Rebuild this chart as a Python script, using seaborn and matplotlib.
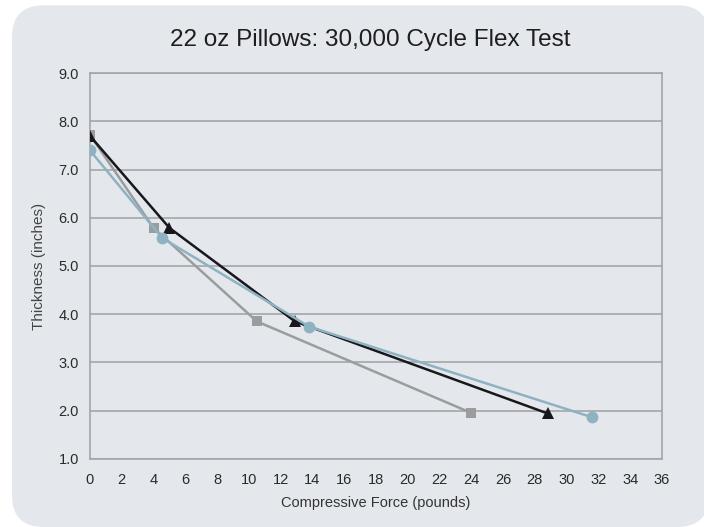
import numpy as np
import pandas as pd
import matplotlib.pyplot as plt
import seaborn as sns
from matplotlib.patches import FancyBboxPatch

# ---------------------------------------------------------------------------
# data
# ---------------------------------------------------------------------------
force_square = [0.0, 4.0, 10.5, 24.0]
thick_square = [7.72, 5.79, 3.85, 1.95]

force_triangle = [0.0, 5.0, 12.9, 28.8]
thick_triangle = [7.70, 5.79, 3.85, 1.94]

force_circle = [0.0, 4.55, 13.8, 31.6]
thick_circle = [7.40, 5.58, 3.74, 1.86]

x_ticks = list(range(0, 37, 2))
y_ticks = [1.0, 2.0, 3.0, 4.0, 5.0, 6.0, 7.0, 8.0, 9.0]

panel_bg = "#e4e8ec"
grid_col = "#a3a6a9"

sns.set_theme(style="white")
plt.rcParams['font.family'] = ['Liberation Sans', 'DejaVu Sans']

fig = plt.figure(figsize=(7.04, 5.27), dpi=100)
fig.patch.set_facecolor("white")

# rounded background panel
panel = FancyBboxPatch((0.017, 0.0), 0.99, 0.99,
                       boxstyle="round,pad=0,rounding_size=0.045",
                       transform=fig.transFigure, facecolor=panel_bg,
                       edgecolor="none", zorder=-10, mutation_aspect=704 / 527)
fig.patches.append(panel)

ax = fig.add_axes([0.1278, 0.1296, 0.9403 - 0.1278, 0.861 - 0.1296])
ax.set_facecolor(panel_bg)

series = [
    (force_square, thick_square, "#9b9c9e", "s", 7.5),
    (force_triangle, thick_triangle, "#18171c", "^", 9),
    (force_circle, thick_circle, "#8fb2c2", "o", 8.5),
]
for fx, ty, col, mk, ms in series:
    df = pd.DataFrame({"force": fx, "thick": ty})
    sns.lineplot(data=df, x="force", y="thick", ax=ax, color=col,
                 marker=mk, markersize=ms, markeredgewidth=0,
                 linewidth=1.8, zorder=3)

ax.set_xlim(0, 36)
ax.set_ylim(1.0, 9.0)
ax.set_xticks(x_ticks)
ax.set_xticklabels([str(v) for v in x_ticks])
ax.set_yticks(y_ticks)
ax.set_yticklabels([f"{v:.1f}" for v in y_ticks])
ax.tick_params(axis="both", labelsize=10.5, colors="#2a2a2a",
               length=4, width=1, color=grid_col, pad=4, direction="out")
ax.tick_params(axis="x", pad=6)
ax.yaxis.grid(True, color=grid_col, linewidth=1.2)
ax.set_axisbelow(True)
for s in ax.spines.values():
    s.set_color(grid_col)
    s.set_linewidth(1.2)

ax.set_xlabel("Compressive Force (pounds)", fontsize=10.5, color="#333333",
              family=['Liberation Sans Narrow', 'Liberation Sans'], labelpad=7)
ax.set_ylabel("Thickness (inches)", fontsize=11, color="#444444", labelpad=9)
fig.text(0.526, 0.924, "22 oz Pillows: 30,000 Cycle Flex Test",
         ha="center", va="center", fontsize=17.5, color="#1e1e1e")

fig.savefig("out.png", dpi=100, facecolor=fig.get_facecolor())
